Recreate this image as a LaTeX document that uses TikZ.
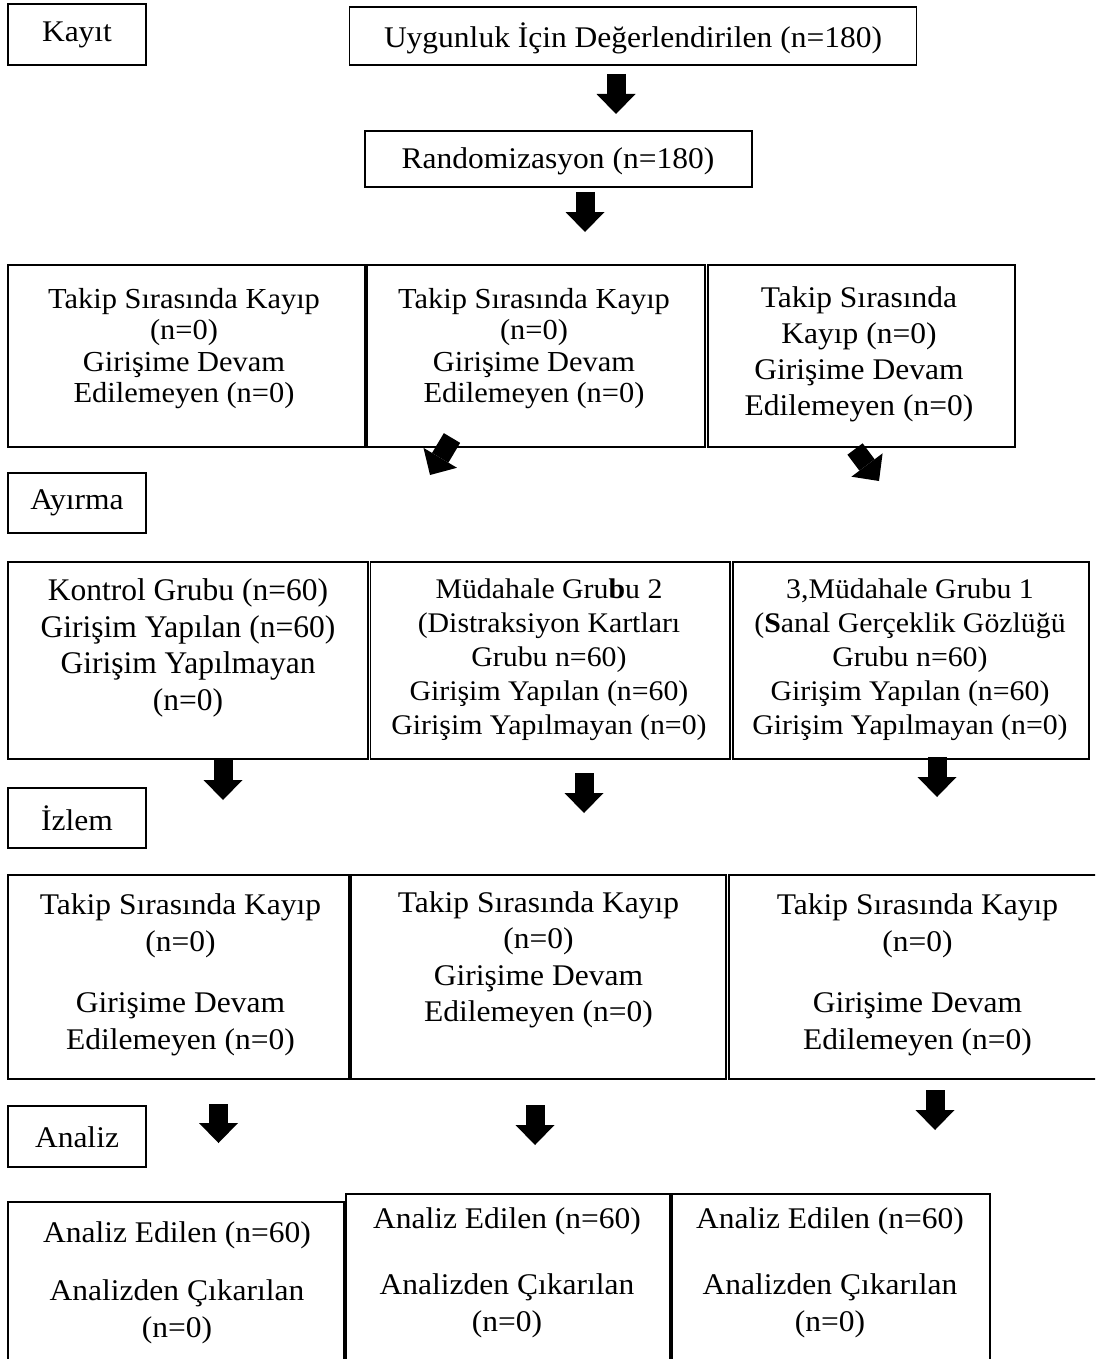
\documentclass[tikz,border=0pt]{standalone}
\usepackage{fontspec}
\setmainfont{Liberation Serif}
\newfontfamily\fS{Liberation Serif}[FakeStretch=1.05]
\usetikzlibrary{arrows.meta,fit}
\tikzset{
  box/.style={draw, line width=1.6pt, inner sep=0pt},
  lab/.style={font=\fS\fontsize{30}{34}\selectfont, inner sep=0pt, align=center},
  txtA/.style={font=\fS\fontsize{29}{31.5}\selectfont, inner sep=0pt, align=center},
  txtB/.style={font=\fS\fontsize{30}{36}\selectfont, inner sep=0pt, align=center},
  txtK/.style={font=\fontsize{31.5}{36.7}\selectfont, inner sep=0pt, align=center},
  txtM/.style={font=\fS\fontsize{28.4}{34}\selectfont, inner sep=0pt, align=center},
  txtC/.style={font=\fS\fontsize{30}{36.5}\selectfont, inner sep=0pt, align=center},
  txtD/.style={font=\fS\fontsize{30}{37}\selectfont, inner sep=0pt, align=center},
  barrow/.style={line width=19pt, -{Triangle[length=20pt,width=39pt,line width=0pt]}}
}
\begin{document}
\begin{tikzpicture}[x=1pt,y=-1pt]
\useasboundingbox (0,0) rectangle (1095,1359);
\fill[white] (0,0) rectangle (1095,1359);
\clip (0,0) rectangle (1095,1359);

% label boxes
\node[box, fit={(8,4) (146,65)}] (kay) {};
\node[lab] (kayT) at (77,35) {Kayıt};
\node[box, fit={(8,473) (146,533)}] (ayi) {};
\node[lab] (ayiT) at (77,503) {Ayırma};
\node[box, fit={(8,788) (146,848)}] (izl) {};
\node[lab] (izlT) at (77,818) {İzlem};
\node[box, fit={(8,1106) (146,1167)}] (ana) {};
\node[lab] (anaT) at (77,1137) {Analiz};

% top boxes
\node[box, fit={(349.5,7) (916.5,65)}] (uyg) {};
\node[lab] (uygT) at (633,38) {Uygunluk İçin Değerlendirilen (n=180)};
\node[box, fit={(365,131) (752,187)}] (ran) {};
\node[lab] (ranT) at (558,161) {Randomizasyon (n=180)};

% row 1
\node[box, fit={(8,265) (365,447)}] (r1a) {};
\node[box, fit={(367,265) (705,447)}] (r1b) {};
\node[box, fit={(708,265) (1015,447)}] (r1c) {};
\node[txtA] (r1aT) at (184,348.5) {Takip Sırasında Kayıp\\(n=0)\\Girişime Devam\\Edilemeyen (n=0)};
\node[txtA] (r1bT) at (534,348.5) {Takip Sırasında Kayıp\\(n=0)\\Girişime Devam\\Edilemeyen (n=0)};
\node[txtB] (r1cT) at (859,354.5) {Takip Sırasında\\Kayıp (n=0)\\Girişime Devam\\Edilemeyen (n=0)};

% row 2
\node[box, fit={(8,562) (368,759)}] (r2a) {};
\node[box, fit={(370.5,562) (730,759)}] (r2b) {};
\node[box, fit={(733,562) (1089,759)}] (r2c) {};
\node[txtK] (r2aT) at (188,648) {Kontrol Grubu (n=60)\\Girişim Yapılan (n=60)\\Girişim Yapılmayan\\(n=0)};
\node[txtM] (r2bT) at (549,659.5) {Müdahale Gru\textbf{b}u 2\\(Distraksiyon Kartları\\Grubu n=60)\\Girişim Yapılan (n=60)\\Girişim Yapılmayan (n=0)};
\node[txtM] (r2cT) at (910,659.5) {3,Müdahale Grubu 1\\(\textbf{S}anal Gerçeklik Gözlüğü\\Grubu n=60)\\Girişim Yapılan (n=60)\\Girişim Yapılmayan (n=0)};

% row 3
\node[box, fit={(8,875) (349,1079)}] (r3a) {};
\node[box, fit={(351,875) (726,1079)}] (r3b) {};
\node[box, fit={(729,875) (1100,1079)}] (r3c) {};
\node[txtC] (r3aT) at (180.5,975) {Takip Sırasında Kayıp\\(n=0)\\[25pt]Girişime Devam\\Edilemeyen (n=0)};
\node[txtC] (r3bT) at (538.5,960) {Takip Sırasında Kayıp\\(n=0)\\Girişime Devam\\Edilemeyen (n=0)};
\node[txtC] (r3cT) at (917.5,975) {Takip Sırasında Kayıp\\(n=0)\\[25pt]Girişime Devam\\Edilemeyen (n=0)};

% row 4
\node[box, fit={(8,1202) (344,1380)}] (r4a) {};
\node[box, fit={(346,1194) (670,1380)}] (r4b) {};
\node[box, fit={(672,1194) (990,1380)}] (r4c) {};
\node[txtD] (r4aT) at (177,1282.5) {Analiz Edilen (n=60)\\[21pt]Analizden Çıkarılan\\(n=0)};
\node[txtD] (r4bT) at (507,1272.5) {Analiz Edilen (n=60)\\[29pt]Analizden Çıkarılan\\(n=0)};
\node[txtD] (r4cT) at (830,1272.5) {Analiz Edilen (n=60)\\[29pt]Analizden Çıkarılan\\(n=0)};

% block arrows
\coordinate (a1s) at (616,74);   \coordinate (a1e) at (616,114);
\coordinate (a2s) at (585,192);  \coordinate (a2e) at (585,232);
\coordinate (d1s) at (452,438); \coordinate (d1e) at (430,475);
\coordinate (d2s) at (855,449); \coordinate (d2e) at (879,481);
\coordinate (a3s) at (223,760);  \coordinate (a3e) at (223,800);
\coordinate (a4s) at (584,773);  \coordinate (a4e) at (584,813);
\coordinate (a5s) at (937,757);  \coordinate (a5e) at (937,797);
\coordinate (a6s) at (218.5,1104); \coordinate (a6e) at (218.5,1143);
\coordinate (a7s) at (535,1105); \coordinate (a7e) at (535,1145);
\coordinate (a8s) at (935,1090); \coordinate (a8e) at (935,1130);
\foreach \a in {a1,a2,d1,d2,a3,a4,a5,a6,a7,a8}
  \draw[barrow] (\a s) -- (\a e);
\end{tikzpicture}
\end{document}
